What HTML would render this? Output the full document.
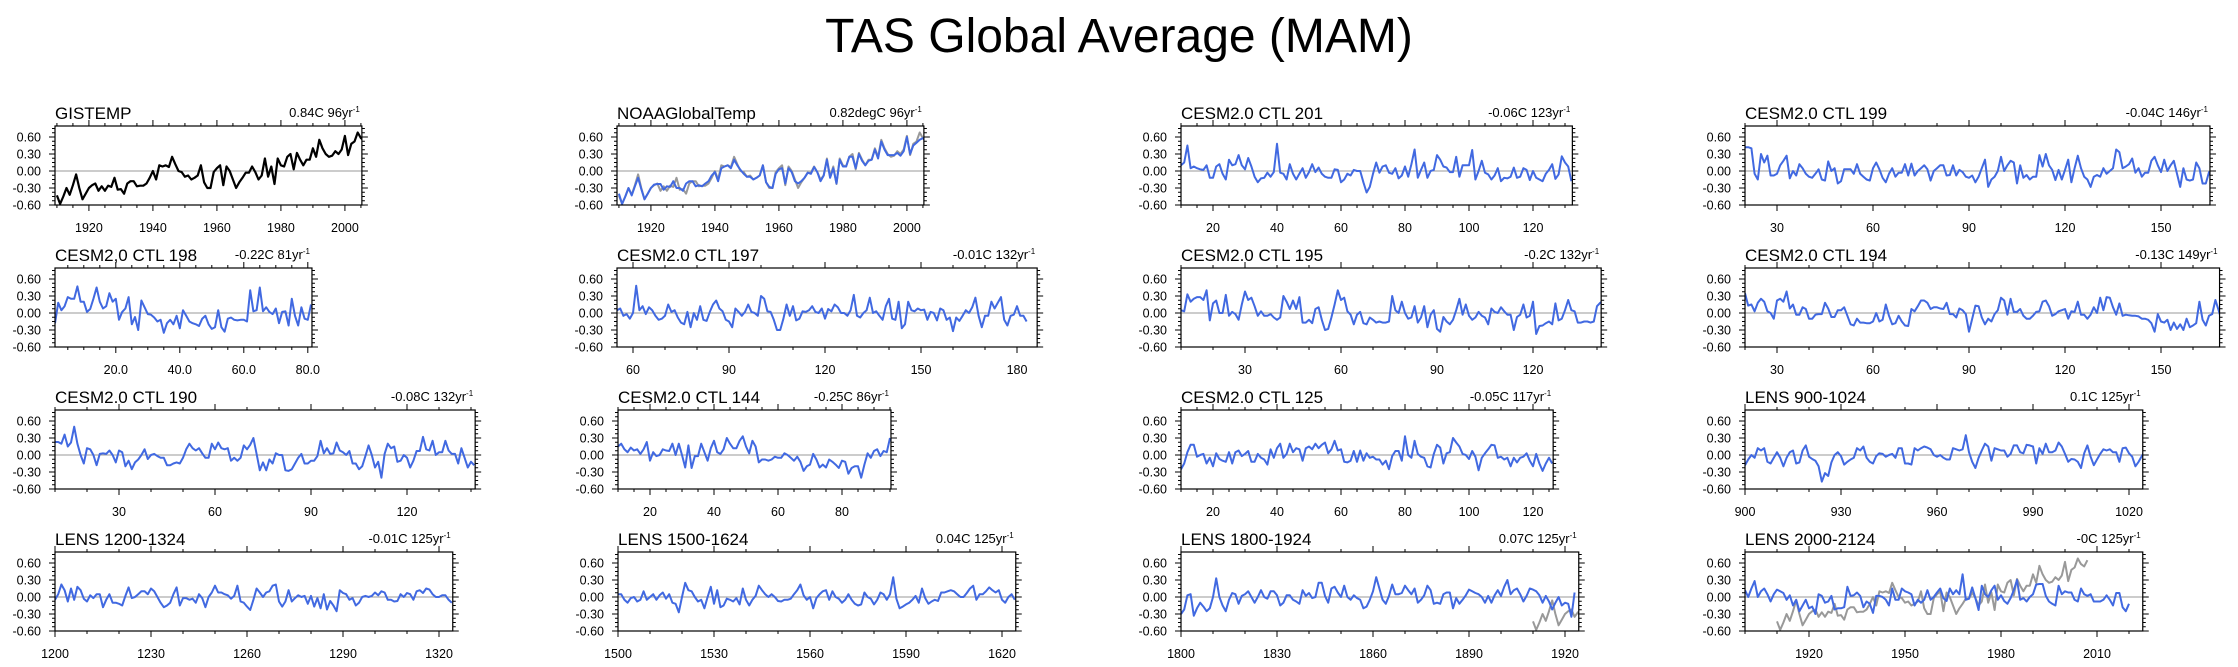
<!DOCTYPE html>
<html><head><meta charset="utf-8"><style>
html,body{margin:0;padding:0;background:#fff;}
svg{display:block;font-family:"Liberation Sans",Arial,sans-serif;}
</style></head><body>
<svg id="chart" width="2238" height="667" viewBox="0 0 2238 667" xmlns="http://www.w3.org/2000/svg">
<rect x="0" y="0" width="2238" height="667" fill="#fff"/>
<text x="1119" y="52" font-size="48" text-anchor="middle" fill="#000">TAS Global Average (MAM)</text>
</svg>
<script>
const gistemp=[-0.43,-0.58,-0.45,-0.30,-0.42,-0.25,-0.06,-0.30,-0.50,-0.40,-0.30,-0.25,-0.22,-0.35,-0.27,-0.35,-0.26,-0.28,-0.12,-0.33,-0.32,-0.40,-0.22,-0.18,-0.18,-0.27,-0.26,-0.26,-0.22,-0.12,0.0,-0.15,0.1,0.08,0.1,0.07,0.25,0.12,0.0,-0.02,-0.1,-0.08,-0.15,-0.12,-0.08,0.1,-0.2,-0.3,-0.3,-0.02,0.05,0.1,-0.25,0.08,0.0,-0.15,-0.3,-0.2,-0.12,-0.03,-0.03,0.08,-0.02,-0.15,-0.08,0.22,-0.1,0.08,-0.23,0.22,0.1,0.08,0.25,0.3,0.03,0.32,0.2,0.1,0.2,0.2,0.4,0.25,0.55,0.4,0.3,0.25,0.27,0.35,0.3,0.38,0.62,0.28,0.48,0.52,0.68,0.58,0.54,0.65];
const noaa=[-0.40,-0.58,-0.45,-0.30,-0.43,-0.27,-0.12,-0.32,-0.50,-0.40,-0.30,-0.24,-0.23,-0.23,-0.33,-0.27,-0.28,-0.18,-0.30,-0.30,-0.35,-0.22,-0.18,-0.18,-0.27,-0.25,-0.27,-0.22,-0.18,-0.08,-0.02,-0.18,0.05,0.08,0.1,0.05,0.2,0.1,0.02,-0.05,-0.1,-0.1,-0.15,-0.12,-0.08,0.1,-0.2,-0.28,-0.3,-0.05,0.03,0.05,-0.22,0.05,-0.02,-0.18,-0.22,-0.18,-0.12,-0.03,-0.05,0.07,-0.02,-0.18,-0.08,0.2,-0.12,0.05,-0.22,0.2,0.08,0.08,0.25,0.25,0.05,0.3,0.18,0.1,0.18,0.2,0.38,0.22,0.52,0.38,0.28,0.28,0.28,0.32,0.27,0.35,0.6,0.3,0.45,0.5,0.55,0.58,0.52,0.62];
const ctl201=[0.1,0.15,0.45,0.05,0.08,0.05,0.03,0.02,0.1,-0.12,-0.12,0.08,0.12,-0.05,-0.15,0.2,0.1,0.12,0.28,0.1,0.03,0.23,0.08,-0.1,-0.2,-0.13,-0.12,-0.03,-0.1,-0.02,0.48,-0.03,-0.05,-0.15,0.12,-0.05,-0.15,-0.05,0.05,-0.12,-0.02,0.12,-0.02,0.06,-0.05,-0.1,-0.12,-0.12,0.03,0.02,-0.2,-0.15,-0.05,-0.08,0.02,0,0,-0.2,-0.38,-0.28,-0.05,0.15,-0.03,0.08,0.1,-0.03,-0.05,0.05,-0.13,-0.08,0.08,-0.1,0.12,0.38,-0.12,0.02,0.15,-0.12,0,0.02,0.28,0.2,0.08,0.06,-0.02,-0.02,0.25,-0.1,0.1,0.1,0.1,0.37,-0.15,0,0.18,-0.03,-0.06,-0.15,-0.08,0.05,-0.18,-0.12,-0.13,-0.1,0.06,-0.12,-0.1,0.05,0.02,-0.16,0,-0.12,-0.15,-0.18,-0.05,0.02,0.12,-0.14,-0.06,0.26,0.15,0.08,-0.18];
const ctl199=[0.42,0.42,0.4,-0.05,-0.15,0.3,0.15,0.27,-0.08,-0.08,-0.05,0.1,0.18,0.27,-0.13,0,-0.08,0.12,0.05,-0.05,-0.1,-0.12,-0.05,0.03,-0.15,-0.17,0.17,0,0.05,-0.22,-0.18,0.03,0.03,0.03,-0.05,0.12,-0.05,-0.1,-0.15,-0.17,0.05,0.15,0.03,-0.12,-0.2,-0.05,0.05,-0.1,-0.03,-0.03,0.12,-0.08,0.13,-0.08,0,0.05,0.1,0.03,-0.17,0,0.05,0.1,0.1,-0.08,-0.07,0.1,-0.08,0.02,-0.02,-0.1,-0.12,-0.08,-0.2,-0.1,0.05,0.2,-0.28,-0.15,-0.1,0,0.25,0,0.1,0.18,0.15,-0.22,0.1,-0.12,-0.07,-0.15,-0.1,-0.1,0.28,0.08,0.3,0.1,0.02,-0.16,0.02,-0.15,0.02,0.2,-0.2,0.05,0.27,0.05,-0.1,-0.15,-0.28,-0.1,-0.07,-0.1,0.05,-0.05,0,0.05,0.38,0.33,0.05,0.08,0.12,0.22,-0.03,0.05,-0.1,-0.03,-0.03,0.18,0.25,0.1,-0.02,0.2,0,0.1,0.18,-0.05,-0.28,0.05,-0.15,-0.17,-0.15,0.15,0.05,-0.22,-0.22,-0.02,-0.15,-0.19,-0.15];
const ctl198=[-0.18,0.18,0.05,0.12,0.28,0.25,0.25,0.47,0.2,0.2,0.02,0.07,0.25,0.45,0.2,0.08,0.12,0.35,0.2,0.25,-0.12,0.02,0.08,0.28,-0.2,-0.07,-0.3,0.22,0.1,-0.02,-0.03,-0.08,-0.15,-0.12,-0.35,-0.18,-0.12,-0.2,-0.05,-0.27,0.05,-0.05,-0.15,-0.18,-0.2,-0.23,-0.1,-0.05,-0.2,-0.28,-0.25,0.05,-0.25,-0.33,-0.1,-0.08,-0.12,-0.13,-0.12,-0.12,-0.15,0.4,0.03,0.05,0.45,0.03,0.1,0.02,-0.02,0.08,-0.18,0.02,0.03,-0.22,0.25,-0.05,-0.22,0.1,-0.1,-0.12,0.15];
const ctl197=[0.05,0.08,-0.05,-0.02,-0.1,0,0.48,0.05,0.12,-0.02,0.1,0.05,-0.05,-0.12,-0.1,-0.05,0.15,0.02,0.05,-0.08,-0.17,-0.2,0.02,-0.25,0,-0.12,0.12,-0.12,-0.14,0.02,0.15,0.22,0.08,0.03,-0.12,-0.15,-0.25,0.08,0.02,-0.05,0.02,0.15,0.02,0,-0.05,0.3,0.25,0.03,0.02,-0.12,-0.3,-0.3,-0.1,0.15,-0.05,0.12,-0.13,-0.1,0.03,0.02,0.05,0.12,0.02,0,0.08,-0.1,0.07,0.03,0.15,0.1,0,0,-0.05,0.05,0.32,-0.05,-0.08,0,0.05,0.27,0,0.03,-0.05,-0.12,0.12,0.25,-0.1,-0.12,0.2,-0.27,-0.2,0.2,0.05,0.03,0.08,0.05,0.06,-0.12,0.02,0,-0.13,0.08,0.05,-0.12,-0.08,-0.32,-0.08,-0.14,-0.05,0.05,0,0.1,0.27,-0.05,-0.25,-0.05,-0.05,0.2,0.08,0.18,0.28,-0.12,-0.22,-0.05,-0.03,0.12,-0.05,-0.05,-0.15];
const ctl195=[0.05,0.03,0.33,0.2,0.25,0.28,0.28,0.23,0.4,-0.13,0.17,0.22,0,0,0.32,-0.05,0.02,-0.02,-0.12,0.15,0.38,0.23,0.27,0.12,-0.05,0.03,-0.05,-0.05,-0.02,-0.08,-0.12,-0.08,0.3,0.2,0.07,0.22,0.07,0.28,-0.17,-0.17,-0.12,-0.18,0.07,0.1,-0.12,-0.3,-0.28,-0.08,0.15,0.4,0.23,0.27,0.03,-0.03,-0.2,-0.03,0.02,-0.18,-0.2,-0.08,-0.12,-0.17,-0.15,-0.17,-0.17,-0.15,0.3,0.05,0,0.2,0,-0.1,-0.08,0.12,-0.17,-0.08,0.12,-0.25,-0.03,0.05,-0.28,-0.33,-0.07,-0.15,-0.2,-0.12,0.05,0.25,-0.03,0.15,-0.05,-0.12,-0.08,0.02,-0.05,-0.08,-0.2,0.08,0.02,0,0.1,0.03,-0.03,-0.03,-0.3,-0.07,-0.03,0.15,-0.08,-0.05,0.2,-0.37,-0.23,-0.22,-0.18,-0.15,-0.2,0.17,-0.13,-0.1,0.05,0.23,0.05,0.03,-0.17,-0.17,-0.15,-0.15,-0.17,-0.15,0.12,0.18,0.22];
const ctl194=[0.35,0.13,0.15,0.03,0.18,0.25,0.2,0.03,0,-0.1,0.22,0.25,0.2,0.38,0.08,0.15,-0.03,-0.03,0.1,0.07,-0.1,-0.1,-0.03,-0.02,-0.02,0.18,0.08,-0.07,-0.07,0.05,0.05,0.1,-0.05,-0.2,-0.22,-0.1,-0.17,-0.17,-0.18,-0.18,-0.15,0,-0.15,-0.12,0.15,-0.05,-0.2,-0.18,-0.05,-0.15,-0.22,-0.23,0.07,0.03,0.12,0.22,0.22,0.18,0.07,0.1,0.1,0.08,0.07,0.18,-0.02,-0.02,-0.08,0.08,0.05,-0.02,-0.33,-0.1,0.13,0.12,-0.08,-0.2,-0.1,-0.15,-0.02,0.05,0.27,0.22,-0.03,0.25,0.02,0.02,0.07,-0.05,-0.1,-0.1,-0.05,0.02,0.03,0.2,0.22,0.12,-0.05,-0.02,0.03,0.05,0.07,-0.1,0.03,0.02,0.2,-0.03,-0.03,-0.1,-0.03,0.1,0,0.27,0.05,0.28,0.27,0.1,-0.03,0.17,-0.05,-0.03,-0.04,-0.05,-0.05,-0.06,-0.1,-0.1,-0.12,-0.18,-0.33,-0.02,-0.15,-0.17,-0.12,-0.3,-0.17,-0.28,-0.2,-0.3,-0.1,-0.25,-0.22,-0.18,0.2,-0.12,-0.22,-0.05,-0.02,0.23,0.05,-0.15];
const ctl190=[0.23,0.23,0.2,0.36,0.15,0.22,0.5,0.2,0,-0.15,0.12,0.1,0,-0.18,0.02,0.03,0.02,0.08,0,-0.13,0.08,0.05,-0.2,-0.1,-0.25,-0.13,-0.08,0,0.1,-0.07,0,0.02,-0.02,-0.05,-0.05,-0.18,-0.18,-0.15,-0.13,-0.15,-0.05,0.1,0.2,0.12,0.08,0.12,0.03,-0.05,-0.05,0.2,0.1,0.22,0.12,0.1,0.12,-0.1,-0.05,-0.1,-0.05,0.17,0.1,0.18,0.3,0.02,-0.27,-0.13,-0.27,-0.08,-0.15,0.03,0,0,-0.27,-0.28,-0.25,-0.15,-0.05,0.02,-0.15,-0.15,-0.1,-0.1,-0.02,0.25,0.03,0.12,0.02,0.03,0.22,0.08,0.05,0,0.07,-0.15,-0.15,-0.25,-0.2,-0.02,0.17,0,-0.22,-0.12,-0.4,0.02,0.2,0.12,0.15,-0.12,-0.1,0,-0.05,-0.22,-0.1,0.07,0.07,0.32,0.1,0.08,0.25,0,0.05,0.05,0.25,0.08,0.02,0.02,-0.15,0.12,-0.05,-0.22,-0.12,-0.18];
const ctl144=[0.15,0.2,0.1,0.05,0.13,0.08,0.1,0.02,0.1,0.23,-0.1,0.05,-0.02,0,0.1,0.08,0.07,0.2,0,0.2,0,-0.22,0.17,-0.23,-0.02,-0.02,0.2,0.05,-0.1,0.12,0.25,0.05,0.02,0.1,0.3,0.2,0.12,0.12,0.25,0.33,0.15,0.03,0.25,0.15,-0.13,-0.08,-0.08,-0.1,-0.08,-0.03,-0.05,-0.05,0.03,0,-0.05,-0.1,-0.03,-0.12,-0.28,-0.2,-0.17,0.02,-0.08,-0.22,-0.17,-0.22,-0.08,-0.12,-0.17,-0.23,-0.1,-0.12,-0.33,-0.23,-0.2,-0.2,-0.4,-0.17,0.03,-0.05,0.07,0.1,-0.02,0.07,0.05,0.3];
const ctl125=[-0.25,-0.15,0.05,0.18,0.18,-0.03,0,0.02,-0.15,-0.05,-0.2,0.03,-0.07,-0.1,-0.12,0.05,-0.15,0.05,0.08,-0.02,0.02,0.07,-0.12,-0.12,0.02,-0.05,-0.08,-0.17,0.1,-0.05,0.12,0.2,-0.05,0.02,0.2,0.05,0.12,0.1,-0.1,0.12,0.15,0.1,0.2,0.12,0.18,0.22,0.03,0.1,0.25,0.08,0.1,-0.12,-0.13,-0.1,0.07,-0.12,0.08,-0.1,0.03,-0.05,-0.03,-0.08,-0.08,-0.17,-0.1,-0.25,-0.02,0.07,0.07,-0.1,0.33,0,-0.05,0.25,0.02,-0.03,-0.05,-0.2,-0.22,0.02,0.18,0.13,-0.15,0.03,0.05,0.3,0.22,0.15,0.02,0,-0.07,0.07,-0.03,-0.27,-0.05,0.03,0.1,0.18,0.17,-0.05,-0.03,-0.08,-0.05,-0.2,-0.05,-0.13,-0.05,-0.03,0.03,-0.1,-0.2,0.02,-0.15,-0.28,-0.15,-0.05,-0.15];
const lens900=[-0.18,-0.08,0,-0.05,0.12,0.08,0.12,-0.12,-0.15,-0.05,0.05,-0.05,-0.2,-0.05,0.05,0.08,-0.15,-0.13,0.08,0.17,-0.03,-0.07,-0.1,-0.2,-0.47,-0.32,-0.37,-0.13,0,0.05,-0.02,-0.17,-0.12,-0.08,-0.05,0.12,0.08,0.15,-0.05,-0.12,-0.15,-0.02,0.03,0.02,-0.03,0,0.02,-0.05,0.12,0.12,-0.15,-0.15,-0.17,0.12,0.08,0.12,0.15,0.13,0.1,0,-0.03,0,-0.05,-0.08,-0.08,0.12,0.1,0.08,0.1,0.35,0.05,-0.12,-0.23,-0.05,0.08,0.2,0.15,-0.1,0.12,0.1,0.08,0.08,-0.03,0.02,0.17,0.17,0.05,0.03,0.18,0.17,0.15,-0.15,0.12,0.02,0.2,0.05,0.05,0.08,0.22,0.15,0.02,-0.12,-0.07,-0.08,-0.12,-0.23,0.03,0.17,-0.03,-0.18,-0.08,0.02,0.1,0.08,0.1,0.05,0.05,-0.12,0.12,0.13,0.03,-0.03,-0.2,-0.12,-0.02,0.08];
const lens1200=[-0.05,0.05,0.22,0.12,-0.08,0.15,-0.05,0.18,0.12,-0.03,-0.08,0.03,-0.02,0.05,0.05,-0.18,-0.05,0.05,-0.1,-0.1,-0.12,-0.15,0.02,0.17,-0.02,0,0.05,0.1,0.1,0.05,0.15,0.1,0,-0.1,-0.18,-0.15,-0.1,0.05,0.17,-0.15,-0.02,-0.02,-0.05,-0.03,-0.1,0.05,-0.02,-0.18,0,0.08,0.2,0.08,0.08,0.05,0.03,-0.03,0.02,0.2,-0.08,-0.1,-0.17,-0.23,-0.05,0.15,0.08,0,0.08,0.1,0.2,0.22,-0.08,-0.17,-0.08,0.12,-0.08,-0.02,0.03,0,0.02,-0.12,0.02,-0.17,-0.02,-0.2,0.05,-0.22,-0.07,-0.15,-0.25,0.12,0.07,0.05,-0.05,-0.02,-0.15,-0.1,0,0.02,0,0.02,0.08,0.03,0.1,0.08,-0.05,-0.05,-0.08,-0.07,0.05,0,0.07,0.05,-0.05,0.1,0.12,0.07,0.15,0.13,0.05,0,0,0.03,0.03,-0.05,-0.1];
const lens1500=[0.05,0.05,-0.05,-0.1,-0.02,0,-0.08,-0.05,0.1,-0.05,0,0.05,-0.05,0.03,0.08,-0.03,0.05,-0.1,-0.12,-0.27,0,0.25,0.12,0.1,0,-0.08,-0.05,-0.2,0,0.18,-0.12,0.12,-0.18,-0.15,-0.03,-0.05,-0.08,-0.02,-0.13,0.15,-0.05,-0.15,-0.05,0.02,0.2,0.12,0.05,0,0.05,0,-0.07,-0.08,-0.05,-0.05,-0.03,0.05,0.12,0.22,0.03,-0.05,0,-0.2,-0.02,0.05,0.1,0.12,-0.05,0.1,0,-0.03,-0.1,-0.05,0.05,-0.05,-0.12,-0.15,-0.13,0.08,0,-0.03,-0.13,-0.05,0.08,0.05,-0.05,0.05,0.35,-0.03,-0.2,-0.17,-0.13,-0.1,-0.05,0.02,-0.1,0.15,-0.02,-0.12,-0.08,-0.05,-0.07,0.08,0.08,0.1,0.12,0.1,0.05,0,0,0.07,0.15,0.2,-0.05,0.05,0.05,0.1,0.17,0.12,0.08,0.12,-0.05,-0.1,0,0.05,-0.05];
const lens1800=[-0.3,-0.22,0.03,0.05,-0.33,-0.2,-0.1,-0.17,-0.25,-0.2,0,0.33,0,-0.15,-0.25,-0.05,0.07,0.05,-0.12,0.02,0.05,0.1,0,-0.1,0,0.12,0,-0.03,0.1,0.1,0.03,-0.15,-0.1,0.03,0.03,-0.05,-0.08,-0.12,0.12,0.02,0.07,-0.02,0,0.25,0.25,0.02,-0.1,0.15,0.18,0.08,0,0.2,0,-0.05,0.03,-0.02,-0.05,-0.2,-0.17,-0.05,0.1,0.35,0.15,-0.05,-0.12,0.02,0.22,0.05,0.05,0.07,0.2,0.12,0.05,0.15,-0.1,-0.05,0.03,0.2,0.12,-0.12,-0.1,-0.12,0.05,0.08,0.08,-0.2,-0.02,-0.12,-0.05,0.03,0.13,0.1,0.07,0.05,0,-0.1,0.02,-0.1,0.03,0.12,0.02,0.18,0.3,0.05,0.12,0.15,0.05,-0.08,0.02,0.15,0.13,0.1,0.03,-0.1,0.02,-0.08,-0.22,-0.1,0,-0.15,-0.1,-0.12,-0.35,0.08];
const lens2000=[0.12,0,0.15,0.28,0,0.1,0.15,0.05,-0.08,0.05,0.13,0.1,0.07,-0.05,0.03,-0.15,-0.05,-0.25,-0.15,-0.05,-0.2,-0.17,-0.3,0.05,0.02,-0.1,-0.08,0.02,-0.22,-0.2,-0.2,-0.18,0.18,0.02,0.03,0.08,0.02,-0.18,-0.08,-0.12,-0.28,0.02,0.02,0,-0.05,-0.15,0.15,-0.05,-0.05,0.15,0.1,0.08,0.05,-0.15,-0.05,-0.1,-0.05,0.12,-0.05,0,0.08,0.15,-0.02,-0.07,0.15,0.05,0.12,0.05,0.4,-0.05,-0.03,0.17,-0.02,-0.23,0.2,0.05,0,0.12,0.2,-0.05,0.03,-0.07,-0.12,-0.02,0.12,0.3,-0.05,-0.02,-0.08,0,0.05,0.22,0.23,0.23,0.02,-0.08,-0.12,-0.15,0.2,0.05,0.1,0.08,0.08,-0.05,-0.08,0.15,0.05,0.02,0.05,-0.08,-0.08,-0.08,-0.05,0.03,-0.05,-0.15,0.07,0.07,-0.18,-0.25,-0.12];
const yTicks=[-0.6,-0.3,0,0.3,0.6];
const yTickLabels=["-0.60","-0.30","0.00","0.30","0.60"];

const BLUE="#4169e1", GREY="#999999";
const PX=3.2, ROWTOP=[126,268,410,552], H=79, YMIN=-0.6, YMAX=0.794;
const panels=[
 {key:"gistemp",title:"GISTEMP",stat:"0.84C 96yr",left:55,row:0,x0:1910,xmin:1909.4,xmax:2005.3,data:gistemp,color:"#000",step:20,minor:5,fmt:0},
 {key:"noaa",title:"NOAAGlobalTemp",stat:"0.82degC 96yr",left:617,row:0,x0:1910,xmin:1909.4,xmax:2005.3,data:noaa,color:BLUE,step:20,minor:5,fmt:0,obs:gistemp,obs0:1910},
 {key:"ctl201",title:"CESM2.0 CTL 201",stat:"-0.06C 123yr",left:1181,row:0,x0:10,xmin:10,xmax:132.3,data:ctl201,color:BLUE,step:20,minor:5,fmt:0},
 {key:"ctl199",title:"CESM2.0 CTL 199",stat:"-0.04C 146yr",left:1745,row:0,x0:20,xmin:20,xmax:165.3,data:ctl199,color:BLUE,step:30,minor:10,fmt:0},
 {key:"ctl198",title:"CESM2,0 CTL 198",stat:"-0.22C 81yr",left:55,row:1,x0:1,xmin:1,xmax:81.3,data:ctl198,color:BLUE,step:20,minor:5,fmt:1},
 {key:"ctl197",title:"CESM2.0 CTL 197",stat:"-0.01C 132yr",left:617,row:1,x0:55,xmin:55,xmax:186.3,data:ctl197,color:BLUE,step:30,minor:10,fmt:0},
 {key:"ctl195",title:"CESM2.0 CTL 195",stat:"-0.2C 132yr",left:1181,row:1,x0:10,xmin:10,xmax:141.3,data:ctl195,color:BLUE,step:30,minor:10,fmt:0},
 {key:"ctl194",title:"CESM2.0 CTL 194",stat:"-0.13C 149yr",left:1745,row:1,x0:20,xmin:20,xmax:168.3,data:ctl194,color:BLUE,step:30,minor:10,fmt:0},
 {key:"ctl190",title:"CESM2.0 CTL 190",stat:"-0.08C 132yr",left:55,row:2,x0:10,xmin:10,xmax:141.3,data:ctl190,color:BLUE,step:30,minor:10,fmt:0},
 {key:"ctl144",title:"CESM2.0 CTL 144",stat:"-0.25C 86yr",left:618,row:2,x0:10,xmin:10,xmax:95.3,data:ctl144,color:BLUE,step:20,minor:5,fmt:0},
 {key:"ctl125",title:"CESM2.0 CTL 125",stat:"-0.05C 117yr",left:1181,row:2,x0:10,xmin:10,xmax:126.3,data:ctl125,color:BLUE,step:20,minor:5,fmt:0},
 {key:"lens900",title:"LENS 900-1024",stat:"0.1C 125yr",left:1745,row:2,x0:900,xmin:900,xmax:1024.3,data:lens900,color:BLUE,step:30,minor:10,fmt:0},
 {key:"lens1200",title:"LENS 1200-1324",stat:"-0.01C 125yr",left:55,row:3,x0:1200,xmin:1200,xmax:1324.3,data:lens1200,color:BLUE,step:30,minor:10,fmt:0},
 {key:"lens1500",title:"LENS 1500-1624",stat:"0.04C 125yr",left:618,row:3,x0:1500,xmin:1500,xmax:1624.3,data:lens1500,color:BLUE,step:30,minor:10,fmt:0},
 {key:"lens1800",title:"LENS 1800-1924",stat:"0.07C 125yr",left:1181,row:3,x0:1800,xmin:1800,xmax:1924.3,data:lens1800,color:BLUE,step:30,minor:10,fmt:0,obs:gistemp,obs0:1910},
 {key:"lens2000",title:"LENS 2000-2124",stat:"-0C 125yr",left:1745,row:3,x0:1900,xmin:1900,xmax:2024.3,data:lens2000,color:BLUE,step:30,minor:10,fmt:0,obs:gistemp,obs0:1910}
];
const NS="http://www.w3.org/2000/svg";
const svg=document.getElementById("chart");
function mk(tag,attrs,parent){const e=document.createElementNS(NS,tag);for(const k in attrs)e.setAttribute(k,attrs[k]);(parent||svg).appendChild(e);return e;}
let defs=mk("defs",{});
panels.forEach((p,i)=>{
  const L=p.left, R=L+(p.xmax-p.xmin)*PX, T=ROWTOP[p.row], B=T+H;
  const xs=v=>L+(v-p.xmin)*(R-L)/(p.xmax-p.xmin);
  const ys=v=>B-(v-YMIN)*(B-T)/(YMAX-YMIN);
  const g=mk("g",{});
  
  
  const cp=mk("clipPath",{id:"cp"+i},defs);mk("rect",{x:L,y:T,width:R-L,height:H},cp);
  const t=mk("text",{x:L,y:T-7,"font-size":17,fill:"#000"},g);t.textContent=p.title;
  
  
  const s=mk("text",{x:R-2,y:T-9,"font-size":13,"text-anchor":"end",fill:"#000"},g);
  
  
  s.appendChild(document.createTextNode(p.stat));
  const sup=mk("tspan",{dy:-5,"font-size":8},s);sup.textContent="-1";
  const z=mk("line",{x1:L,x2:R,y1:ys(0),y2:ys(0),stroke:GREY,"stroke-width":1},g);
  
  
  const lg=mk("g",{"clip-path":"url(#cp"+i+")"},g);
  if(p.obs){
    const pts=p.obs.map((v,j)=>xs(p.obs0+j).toFixed(1)+","+ys(v).toFixed(1)).join(" ");
    const o=mk("polyline",{points:pts,fill:"none",stroke:GREY,"stroke-width":2,"stroke-linejoin":"round"},lg);
    
    
  }
  const pts=p.data.map((v,j)=>xs(p.x0+j).toFixed(1)+","+ys(v).toFixed(1)).join(" ");
  const ln=mk("polyline",{points:pts,fill:"none",stroke:p.color,"stroke-width":p.color==="#000"?2.2:2,"stroke-linejoin":"round"},lg);
  
  
  let d="";
  for(let v=YMIN;v<=YMAX+1e-6;v+=0.075){const y=ys(v);const maj=Math.abs(v/0.3-Math.round(v/0.3))<1e-3;const l=maj?6:3;d+=`M${L-l},${y}H${L}M${R},${y}H${R+l}`;}
  const xstart=Math.ceil(p.xmin/p.minor)*p.minor;
  for(let v=xstart;v<=p.xmax+1e-6;v+=p.minor){const x=xs(v);const maj=v%p.step===0;const l=maj?6:3;d+=`M${x},${T-l}V${T}M${x},${B}V${B+l}`;}
  const tk=mk("path",{d:d,stroke:"#000","stroke-width":1,fill:"none"},g);
  
  
  const fr=mk("rect",{x:L,y:T,width:R-L,height:H,fill:"none",stroke:"#000","stroke-width":1.2},g);
  
  
  yTicks.forEach((v,k)=>{
    const e=mk("text",{x:L-14,y:ys(v)+4.5,"font-size":12.5,"text-anchor":"end",fill:"#000"},g);e.textContent=yTickLabels[k];
    
    
  });
  for(let v=Math.ceil(p.xmin/p.step)*p.step;v<=p.xmax;v+=p.step){
    const e=mk("text",{x:xs(v),y:B+27,"font-size":12.5,"text-anchor":"middle",fill:"#000"},g);e.textContent=p.fmt?v.toFixed(1):String(v);
    
    
  }
});
</script>
</body></html>
